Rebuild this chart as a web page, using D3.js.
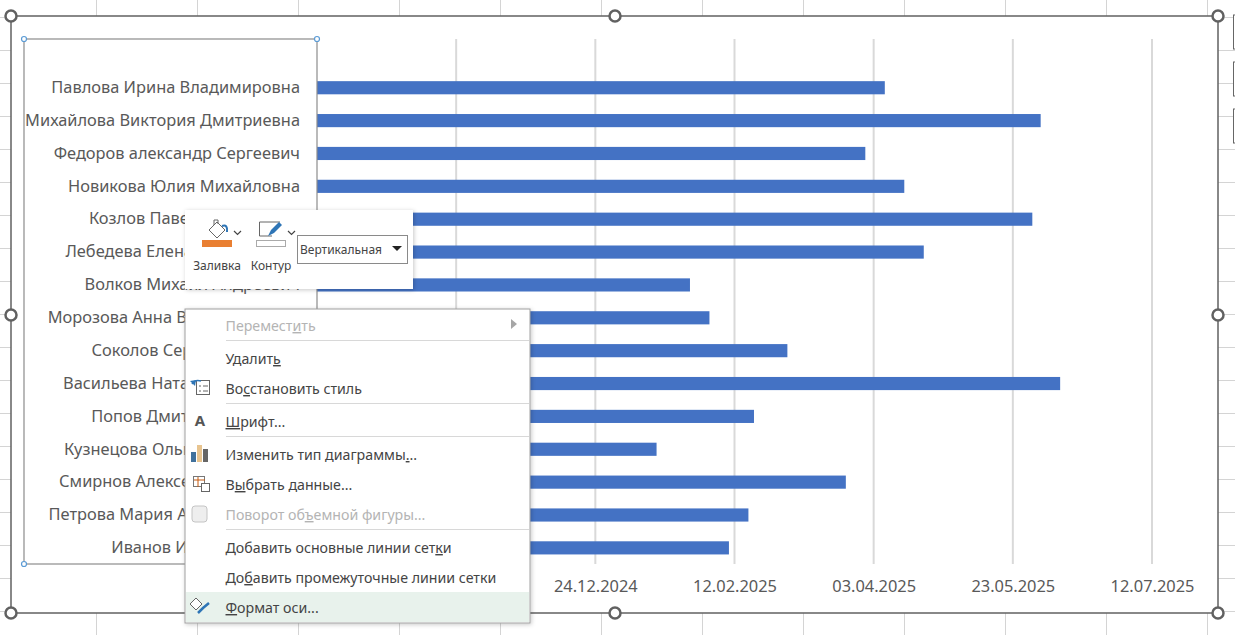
<!DOCTYPE html>
<html>
<head>
<meta charset="utf-8">
<script src="https://d3js.org/d3.v7.min.js"></script>
<style>
html, body { margin: 0; padding: 0; background: #fff; overflow: hidden; }
svg { display: block; }
text { font-family: "Noto Sans", "Open Sans", sans-serif; }
.axis text { fill: #595959; font-size: 16.4px; }
.menu text { font-size: 14.2px; fill: #444; }
.menu text.off { fill: #b4b4b4; }
</style>
</head>
<body>
<svg id="chart" width="1235" height="635"></svg>
<script>
// data (top bar first)
var names = [
    "Павлова Ирина Владимировна",
    "Михайлова Виктория Дмитриевна",
    "Федоров александр Сергеевич",
    "Новикова Юлия Михайловна",
    "Козлов Павел Николаевич",
    "Лебедева Елена Анатольевна",
    "Волков Михаил Андреевич",
    "Морозова Анна Владиславовна",
    "Соколов Сергей Петрович",
    "Васильева Наталья Ивановна",
    "Попов Дмитрий Олегович",
    "Кузнецова Ольга Николаевна",
    "Смирнов Алексей Викторович",
    "Петрова Мария Александровна",
    "Иванов Иван Иванович"
];
var endDates = [
    "07.04.2025", "02.06.2025", "31.03.2025", "14.04.2025", "30.05.2025",
    "21.04.2025", "27.01.2025", "03.02.2025", "03.03.2025", "09.06.2025",
    "19.02.2025", "15.01.2025", "24.03.2025", "17.02.2025", "10.02.2025"
];
var startDate = "15.09.2024";
var gridDates = ["04.11.2024", "24.12.2024", "12.02.2025", "03.04.2025", "23.05.2025", "12.07.2025"];
var tickDates = ["24.12.2024", "12.02.2025", "03.04.2025", "23.05.2025", "12.07.2025"]; // the others are under the menu

// context menu: label, underlined letter index, disabled, separator before
var menuLabels = ["Переместить", "Удалить", "Восстановить стиль", "Шрифт...", "Изменить тип диаграммы...",
    "Выбрать данные...", "Поворот объемной фигуры...", "Добавить основные линии сетки",
    "Добавить промежуточные линии сетки", "Формат оси..."];
var menuUnderline = [8, 6, 2, 0, 22, 1, 10, 27, 2, 0];
var menuDisabled = [true, false, false, false, false, false, true, false, false, false];
var menuSepBefore = [false, true, false, true, true, false, false, true, false, false];

var parse = d3.timeParse("%d.%m.%Y");
var fmt = d3.timeFormat("%d.%m.%Y");
var svg = d3.select("#chart");

// excel sheet grid behind the chart
var sheet = svg.append("g").attr("stroke", "#d4d4d4").attr("stroke-width", 1);
d3.range(0, 13).forEach(function(n){
    var gx = 96.5 + 101 * n;
    sheet.append("line").attr("x1", gx).attr("x2", gx).attr("y1", 0).attr("y2", 635);
});
d3.range(0, 20).forEach(function(n){
    var gy = 17.5 + 33 * n;
    sheet.append("line").attr("x1", 0).attr("x2", 1235).attr("y1", gy).attr("y2", gy);
});

// partial buttons at the right edge
[15, 62, 109].forEach(function(by){
    svg.append("rect").attr("x", 1233.5).attr("y", by).attr("width", 10).attr("height", 34)
        .attr("fill", "#fff").attr("stroke", "#666");
});

// chart area
svg.append("rect").attr("x", 11).attr("y", 16).attr("width", 1207).attr("height", 597)
    .attr("fill", "#fff").attr("stroke", "#616161").attr("stroke-width", 1.5);

var x = d3.scaleTime().domain([parse(startDate), parse("12.07.2025")]).range([317, 1152]);
var y = d3.scaleBand().domain(names).range([71.3, 564.3]).paddingInner(0.6).paddingOuter(0.3);

// vertical gridlines
svg.append("g").selectAll("line").data(gridDates).join("line")
    .attr("x1", function(d){ return x(parse(d)); })
    .attr("x2", function(d){ return x(parse(d)); })
    .attr("y1", 39).attr("y2", 564)
    .attr("stroke", "#d9d9d9").attr("stroke-width", 2);

// bars
svg.append("g").selectAll("rect").data(names).join("rect")
    .attr("x", x(parse(startDate)))
    .attr("y", function(d){ return y(d); })
    .attr("width", function(d, i){ return x(parse(endDates[i])) - x(parse(startDate)); })
    .attr("height", y.bandwidth())
    .attr("fill", "#4472c4");

// axes
var xAxis = d3.axisBottom(x).tickValues(tickDates.map(parse)).tickFormat(fmt).tickSize(0).tickPadding(0);
var axisX = svg.append("g").attr("class", "axis").attr("transform", "translate(0,580)").call(xAxis);
axisX.select(".domain").remove();

var yAxis = d3.axisLeft(y).tickSize(0).tickPadding(17);
var axisY = svg.append("g").attr("class", "axis").attr("transform", "translate(317,0)").call(yAxis);
axisY.select(".domain").remove();

// selected plot area outline and handles
svg.append("rect").attr("x", 24).attr("y", 39).attr("width", 293).attr("height", 525)
    .attr("fill", "none").attr("stroke", "#8c8c8c").attr("stroke-width", 1.2);
[[24, 39], [317, 39], [24, 564]].forEach(function(p){
    svg.append("circle").attr("cx", p[0]).attr("cy", p[1]).attr("r", 2.5)
        .attr("fill", "#fff").attr("stroke", "#5b9bd5").attr("stroke-width", 1.2);
});

// chart handles
[[11, 16], [615, 16], [1218, 16], [11, 315], [1218, 315], [11, 613], [615, 613], [1218, 613]].forEach(function(p){
    svg.append("circle").attr("cx", p[0]).attr("cy", p[1]).attr("r", 5.5)
        .attr("fill", "#fff").attr("stroke", "#616161").attr("stroke-width", 2.5);
});

// shadow for the popups
var defs = svg.append("defs");
var blur = defs.append("filter").attr("id", "soft").attr("x", "-10%").attr("y", "-10%").attr("width", "120%").attr("height", "120%");
blur.append("feDropShadow").attr("dx", 1).attr("dy", 1).attr("stdDeviation", 2).attr("flood-color", "#000").attr("flood-opacity", 0.22);

// mini toolbar
var bar = svg.append("g").attr("class", "menu");
bar.append("rect").attr("x", 185).attr("y", 210).attr("width", 228).attr("height", 79)
    .attr("fill", "#fff").attr("filter", "url(#soft)");
bar.append("rect").attr("x", 202).attr("y", 240).attr("width", 30).attr("height", 7).attr("fill", "#e97f32");
bar.append("path").attr("d", "M209 230 L217 222 L225 230 L217 238 Z M214 225 L214 220 L218 220 L218 224")
    .attr("fill", "#fff").attr("stroke", "#666").attr("stroke-width", 1);
bar.append("path").attr("d", "M222 226 q6 -2 5 6").attr("fill", "none").attr("stroke", "#2e75b6").attr("stroke-width", 2);
bar.append("path").attr("d", "M234 231 l3.5 3.5 l3.5 -3.5").attr("fill", "none").attr("stroke", "#444").attr("stroke-width", 1.2);
bar.append("rect").attr("x", 256.5).attr("y", 240.5).attr("width", 29).attr("height", 6).attr("fill", "#fff").attr("stroke", "#aaa");
bar.append("path").attr("d", "M272 236 H259.5 V222 H280").attr("fill", "none").attr("stroke", "#666");
bar.append("path").attr("d", "M268 236 L271 230 L279 222 L282 225 L274 233 Z").attr("fill", "#2e75b6");
bar.append("path").attr("d", "M288 231 l3.5 3.5 l3.5 -3.5").attr("fill", "none").attr("stroke", "#444").attr("stroke-width", 1.2);
bar.append("text").attr("x", 217).attr("y", 270).attr("text-anchor", "middle").style("font-size", "12px").text("Заливка");
bar.append("text").attr("x", 271).attr("y", 270).attr("text-anchor", "middle").style("font-size", "12px").text("Контур");
bar.append("rect").attr("x", 297.5).attr("y", 235.5).attr("width", 110).attr("height", 28).attr("fill", "#fff").attr("stroke", "#8a8a8a");
bar.append("text").attr("x", 300).attr("y", 254).style("font-size", "12px").text("Вертикальная");
bar.append("path").attr("d", "M392 246 h10 l-5 5 Z").attr("fill", "#222");

// context menu
var menu = svg.append("g").attr("class", "menu");
menu.append("rect").attr("x", 185).attr("y", 309).attr("width", 345).attr("height", 314)
    .attr("fill", "#fff").attr("stroke", "#a0a0a0").attr("filter", "url(#soft)");
menu.append("rect").attr("x", 186).attr("y", 592).attr("width", 343).attr("height", 30).attr("fill", "#e8f2ec");

var rowY = 331;
menuLabels.forEach(function(label, i){
    if (i > 0) { rowY += 30; }
    if (menuSepBefore[i]) {
        menu.append("line").attr("x1", 226).attr("x2", 529).attr("y1", rowY - 20.5).attr("y2", rowY - 20.5).attr("stroke", "#d8d8d8");
        rowY += 3;
    }
    var u = menuUnderline[i];
    var t = menu.append("text").attr("x", 225.5).attr("y", rowY).classed("off", menuDisabled[i]);
    t.append("tspan").text(label.slice(0, u));
    t.append("tspan").attr("text-decoration", "underline").text(label.slice(u, u + 1));
    t.append("tspan").text(label.slice(u + 1));
});

// menu icons
menu.append("path").attr("d", "M511 319 l6 5 l-6 5 Z").attr("fill", "#a6a6a6");
menu.append("rect").attr("x", 196.5).attr("y", 380.5).attr("width", 13).attr("height", 14).attr("fill", "#fff").attr("stroke", "#666");
menu.append("path").attr("d", "M199 386 h2 M203 386 h5 M199 391 h2 M203 391 h5").attr("stroke", "#666");
menu.append("path").attr("d", "M192 384 q3 -5 9 -3").attr("fill", "none").attr("stroke", "#2e75b6").attr("stroke-width", 1.5);
menu.append("path").attr("d", "M190 381 l5 5 l1 -6 Z").attr("fill", "#2e75b6");
menu.append("text").attr("x", 200).attr("y", 426).attr("text-anchor", "middle")
    .style("font-size", "15px").style("font-weight", "700").style("fill", "#555").text("A");
menu.append("rect").attr("x", 191).attr("y", 452).attr("width", 5).attr("height", 10).attr("fill", "#41719c");
menu.append("rect").attr("x", 197).attr("y", 445).attr("width", 5).attr("height", 17).attr("fill", "#e8c48f");
menu.append("rect").attr("x", 203).attr("y", 449).attr("width", 5).attr("height", 13).attr("fill", "#666");
menu.append("rect").attr("x", 193.5).attr("y", 476.5).attr("width", 11).attr("height", 10).attr("fill", "#fff").attr("stroke", "#777");
menu.append("path").attr("d", "M194 480 h11 M198 477 v10").attr("stroke", "#c55a11");
menu.append("rect").attr("x", 201.5).attr("y", 483.5).attr("width", 8).attr("height", 8).attr("fill", "#fff").attr("stroke", "#666");
menu.append("rect").attr("x", 192).attr("y", 506).attr("width", 15).attr("height", 16).attr("rx", 3)
    .attr("fill", "#eee").attr("stroke", "#c4c4c4");
menu.append("path").attr("d", "M190 604 L196 598 L202 604 L196 610 Z").attr("fill", "#fff").attr("stroke", "#666");
menu.append("path").attr("d", "M198 613 L203 608 L209 603").attr("fill", "none").attr("stroke", "#2e75b6").attr("stroke-width", 2.5);
</script>
</body>
</html>
